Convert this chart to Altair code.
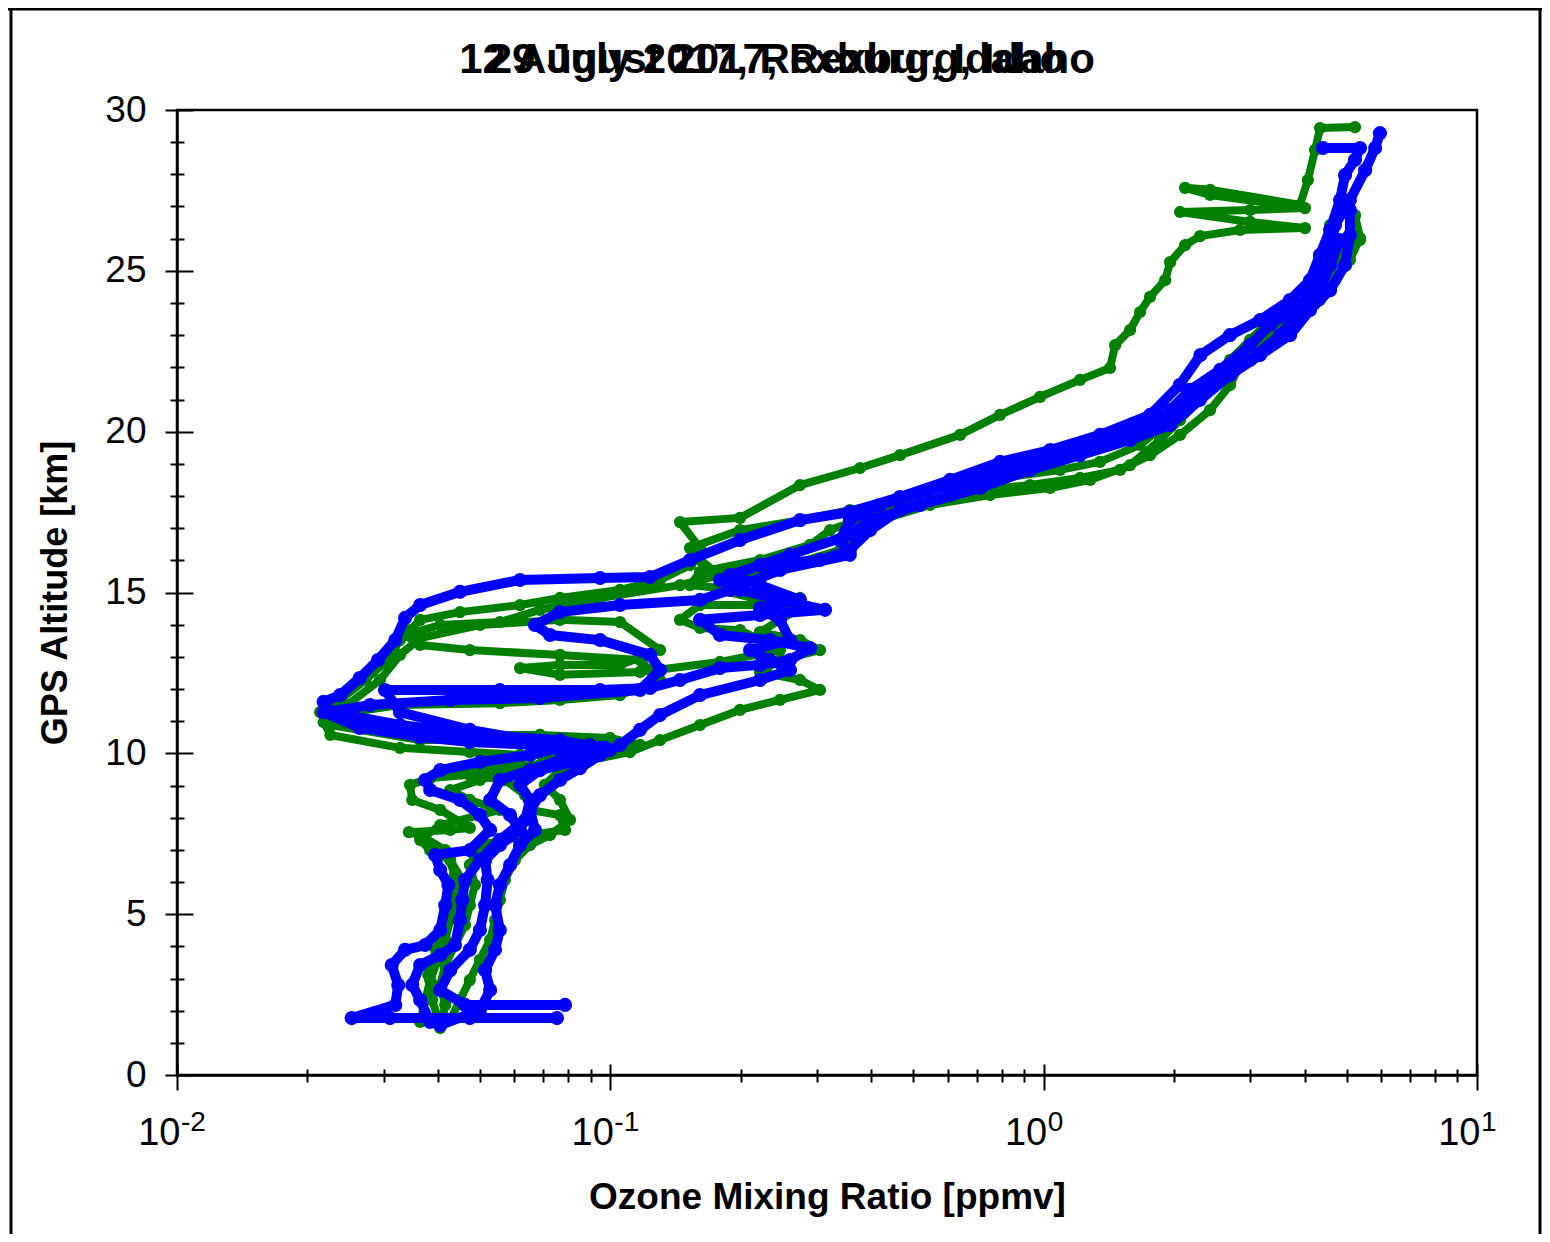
import altair as alt
import pandas as pd

TITLE_A = "12 August 2017, Rexburg, Idaho"
TITLE_B = "29 July 2017, Rexburg, Idaho"
X_TITLE = "Ozone Mixing Ratio [ppmv]"
Y_TITLE = "GPS Altitude [km]"

x_major = [0.01, 0.1, 1, 10]
x_exponents = ["-2", "-1", "0", "1"]
x_minor = [0.02, 0.03, 0.04, 0.05, 0.06, 0.07, 0.08, 0.09,
           0.2, 0.3, 0.4, 0.5, 0.6, 0.7, 0.8, 0.9,
           2, 3, 4, 5, 6, 7, 8, 9]
y_major = [0, 5, 10, 15, 20, 25, 30]
y_minor = [k for k in range(1, 30) if k % 5 != 0]

# ---- green profiles (ozone ppmv, altitude km) ----
g1_o3 = [0.0405, 0.0388, 0.0380, 0.0396, 0.0416, 0.0427, 0.0438, 0.0416, 0.0364, 0.0343,
         0.0427, 0.0474, 0.0405, 0.0349, 0.0345, 0.0384, 0.0474, 0.0556, 0.0619, 0.0716,
         0.0688, 0.0556, 0.0364, 0.0226, 0.0214, 0.0238, 0.0272, 0.0306, 0.0327, 0.0345,
         0.0364, 0.0450, 0.0619, 0.0765, 0.1053, 0.1302, 0.1527, 0.1611, 0.1448, 0.1992,
         0.274, 0.3769, 0.466, 0.6412, 0.793, 0.981, 1.213, 1.423, 1.462, 1.583,
         1.669, 1.76, 1.907, 1.958, 2.12, 2.296, 2.839, 4.01, 2.994, 2.064,
         2.994, 4.01, 2.421, 2.12, 2.421, 3.905, 4.07, 4.23, 4.343, 5.23]
g1_alt = [1.55, 2.33, 3.11, 3.89, 4.66, 5.44, 6.22, 6.99, 7.46, 7.55,
          7.62, 7.68, 8.24, 8.55, 9.02, 9.23, 9.33, 9.48, 9.79, 10.26,
          10.57, 10.48, 10.41, 10.88, 11.28, 11.66, 12.28, 12.90, 13.52, 13.83,
          14.15, 14.39, 14.61, 14.83, 15.08, 15.39, 15.85, 16.38, 17.19, 17.32,
          18.34, 18.87, 19.27, 19.90, 20.52, 21.08, 21.61, 21.98, 22.69, 23.16,
          23.72, 24.19, 24.71, 25.27, 25.80, 26.08, 26.27, 26.33, 26.52, 26.83,
          26.89, 26.95, 27.36, 27.58, 27.52, 27.05, 27.82, 28.76, 29.44, 29.47]

g2_o3 = [0.0405, 0.0416, 0.0405, 0.0416, 0.0438, 0.0462, 0.0474, 0.0487, 0.0474, 0.0500,
         0.0653, 0.0786, 0.0765, 0.0653, 0.0636, 0.0571, 0.0474, 0.0405, 0.0500, 0.0688,
         0.0947, 0.1171, 0.0998, 0.0688, 0.0384, 0.0264, 0.0226, 0.0327, 0.0556, 0.0765,
         0.1053, 0.1302, 0.1171, 0.0765, 0.0474, 0.0364, 0.0336, 0.0405, 0.0556, 0.0688,
         0.0947, 0.1448, 0.1791, 0.1611, 0.1527, 0.1992, 0.274, 0.357, 0.466, 0.608,
         0.793, 1.091, 1.349, 1.669, 1.958, 2.177, 2.421, 2.693, 2.994, 3.33,
         3.703, 4.118, 4.343, 4.83, 4.58, 4.77]
g2_alt = [1.46, 2.18, 2.80, 3.42, 4.04, 4.66, 5.28, 5.91, 6.53, 7.15,
          7.46, 7.62, 8.08, 8.24, 8.70, 9.17, 9.33, 9.42, 9.54, 9.64,
          10.04, 10.26, 10.48, 10.57, 10.57, 10.88, 11.19, 11.50, 11.56, 11.66,
          11.81, 12.28, 12.90, 13.06, 13.21, 13.37, 13.68, 13.99, 14.08, 14.46,
          14.83, 15.23, 15.54, 16.01, 16.38, 16.94, 17.25, 17.56, 17.88, 18.34,
          18.56, 18.81, 19.06, 19.59, 20.36, 21.14, 21.61, 22.23, 22.85, 23.47,
          24.09, 24.71, 25.18, 25.71, 26.42, 26.83]

g3_o3 = [0.0364, 0.0374, 0.0384, 0.0400, 0.0416, 0.0427, 0.0444, 0.0455, 0.0427, 0.0384,
         0.0364, 0.0405, 0.0500, 0.0556, 0.0474, 0.0427, 0.0500, 0.0587, 0.0726, 0.0851,
         0.0619, 0.0474, 0.0327, 0.0226, 0.0218, 0.0247, 0.0294, 0.0327, 0.0364, 0.0500,
         0.0765, 0.1053, 0.1302, 0.1053, 0.0765, 0.0619, 0.0765, 0.1171, 0.1791, 0.2464,
         0.1992, 0.1611, 0.1448, 0.1611, 0.2336, 0.274, 0.1992, 0.1527, 0.1611, 0.2215,
         0.289, 0.3214, 0.4191, 0.5467, 0.7131, 0.930, 1.213, 1.501, 1.76, 2.064,
         2.421, 2.693, 2.839, 3.157, 3.703, 4.118, 4.343, 4.58, 4.96, 5.371]
g3_alt = [1.65, 2.33, 2.95, 3.58, 4.20, 4.82, 5.44, 6.06, 6.68, 6.99,
          7.31, 7.77, 8.08, 8.24, 8.55, 8.86, 9.17, 9.48, 9.73, 9.95,
          9.95, 10.04, 10.17, 10.57, 10.97, 11.50, 12.28, 13.06, 13.58, 13.99,
          14.15, 14.08, 13.21, 12.75, 12.75, 12.65, 12.44, 12.53, 12.84, 13.21,
          13.83, 13.90, 14.15, 14.61, 14.61, 14.83, 15.08, 15.23, 15.64, 16.01,
          16.48, 16.94, 17.50, 17.88, 18.19, 18.34, 18.56, 18.81, 19.27, 19.90,
          20.67, 21.45, 22.07, 22.85, 23.47, 24.09, 24.56, 25.02, 25.49, 25.96]

g4_o3 = [0.0427, 0.0450, 0.0474, 0.0500, 0.0528, 0.0542, 0.0556, 0.0571, 0.0602, 0.0653,
         0.0726, 0.0807, 0.0765, 0.0706, 0.0765, 0.0898, 0.1110, 0.1302, 0.1611, 0.1992,
         0.2464, 0.3047, 0.274, 0.2215, 0.2464, 0.3047, 0.274, 0.2215, 0.2464, 0.274,
         0.2215, 0.1791, 0.1992, 0.2598, 0.3388, 0.3769, 0.4191, 0.5467, 0.752, 1.035,
         1.28, 1.583, 1.856, 2.064, 2.296, 2.553, 2.839, 3.33, 3.905, 4.343,
         4.70, 5.09, 5.371, 5.23]
g4_alt = [1.71, 2.33, 2.95, 3.58, 4.20, 4.82, 5.44, 6.06, 6.68, 7.15,
          7.46, 7.93, 8.55, 9.02, 9.48, 9.79, 10.04, 10.41, 10.88, 11.35,
          11.66, 11.97, 12.28, 12.53, 12.90, 13.21, 13.52, 13.77, 14.15, 14.52,
          14.77, 15.08, 15.39, 15.85, 16.32, 16.79, 17.25, 17.72, 18.03, 18.25,
          18.50, 18.96, 19.74, 20.36, 20.99, 21.61, 22.23, 23.00, 23.63, 24.09,
          24.71, 25.34, 26.02, 26.73]

# ---- blue profiles ----
b1_o3 = [0.0753, 0.0474, 0.0310, 0.0253, 0.0319, 0.0324, 0.0313, 0.0336, 0.0374, 0.0405,
         0.0416, 0.0423, 0.0405, 0.0394, 0.0474, 0.0528, 0.0500, 0.0450, 0.0384, 0.0374,
         0.0405, 0.0500, 0.0653, 0.0765, 0.0947, 0.0765, 0.0500, 0.0327, 0.0226, 0.0218,
         0.0238, 0.0264, 0.0291, 0.0319, 0.0336, 0.0364, 0.0450, 0.0619, 0.0947, 0.1235,
         0.1527, 0.1992, 0.274, 0.357, 0.466, 0.608, 0.793, 1.035, 1.349, 1.76,
         2.06, 2.30, 2.69, 3.16, 3.70, 4.12, 4.34, 4.58, 4.83, 4.96,
         5.23, 5.37, 4.41]
b1_alt = [1.77, 1.77, 1.77, 1.77, 2.18, 2.80, 3.42, 3.89, 4.04, 4.51,
          5.28, 5.91, 6.37, 6.84, 6.99, 7.62, 8.08, 8.55, 8.86, 9.17,
          9.48, 9.73, 9.95, 10.17, 10.17, 10.41, 10.57, 10.88, 11.28, 11.60,
          11.81, 12.34, 12.90, 13.52, 14.21, 14.61, 15.02, 15.39, 15.45, 15.48,
          16.01, 16.63, 17.25, 17.50, 17.97, 18.50, 19.06, 19.43, 19.90, 20.52,
          21.45, 22.38, 23.00, 23.47, 24.09, 24.71, 25.49, 26.27, 27.20, 27.98,
          28.45, 28.82, 28.82]

b2_o3 = [0.0786, 0.0462, 0.0405, 0.0427, 0.0474, 0.0500, 0.0514, 0.0521, 0.0514, 0.0556,
         0.0619, 0.0587, 0.0528, 0.0556, 0.0653, 0.0765, 0.0898, 0.0972, 0.0688, 0.0474,
         0.0364, 0.0264, 0.0218, 0.0279, 0.0427, 0.0688, 0.1171, 0.1302, 0.1235, 0.0947,
         0.0726, 0.0670, 0.0765, 0.1053, 0.1611, 0.1889, 0.2464, 0.357, 0.339, 0.357,
         0.419, 0.608, 0.793, 1.035, 1.349, 1.669, 1.958, 2.177, 2.553, 2.994,
         3.33, 3.905, 4.343, 4.58, 4.70, 5.09, 5.52, 5.82, 5.97]
b2_alt = [2.18, 2.18, 2.64, 3.26, 3.89, 4.51, 5.28, 6.06, 6.68, 7.15,
          7.62, 8.08, 8.55, 9.17, 9.48, 9.79, 10.10, 10.17, 10.26, 10.35,
          10.51, 10.79, 11.28, 11.50, 11.66, 11.72, 11.97, 12.59, 13.06, 13.52,
          13.68, 13.99, 14.39, 14.61, 14.77, 15.08, 15.70, 16.17, 16.63, 17.25,
          17.72, 18.34, 18.81, 19.27, 19.74, 20.05, 20.67, 21.30, 21.92, 22.69,
          23.32, 23.94, 24.71, 25.49, 26.42, 27.20, 28.13, 28.82, 29.28]

b3_o3 = [0.0384, 0.0364, 0.0349, 0.0364, 0.0405, 0.0438, 0.0450, 0.0455, 0.0462, 0.0500,
         0.0556, 0.0636, 0.0653, 0.0619, 0.0688, 0.0851, 0.0998, 0.0898, 0.0688, 0.0474,
         0.0327, 0.0302, 0.0556, 0.0947, 0.1235, 0.1448, 0.1791, 0.2215, 0.2598, 0.289,
         0.2336, 0.1791, 0.1611, 0.2215, 0.313, 0.2464, 0.1992, 0.1791, 0.2215, 0.3047,
         0.357, 0.3975, 0.466, 0.608, 0.793, 1.035, 1.349, 1.76, 2.064, 2.421,
         2.994, 3.511, 3.905, 4.343, 4.58, 4.83]
b3_alt = [1.65, 2.33, 2.80, 3.42, 3.73, 4.04, 4.82, 5.44, 6.06, 6.68,
          7.31, 7.93, 8.55, 9.02, 9.48, 9.79, 10.10, 10.26, 10.35, 10.73,
          11.28, 11.97, 11.97, 11.97, 12.03, 12.28, 12.65, 12.75, 12.90, 13.27,
          13.52, 13.68, 14.15, 14.30, 14.46, 14.77, 15.08, 15.39, 15.85, 16.01,
          16.32, 16.94, 17.56, 18.03, 18.65, 19.18, 19.59, 20.05, 20.83, 21.61,
          22.23, 23.00, 23.78, 24.40, 25.18, 25.96]

b4_o3 = [0.0405, 0.0500, 0.0528, 0.0514, 0.0542, 0.0556, 0.0542, 0.0556, 0.0587, 0.0619,
         0.0670, 0.0653, 0.0688, 0.0765, 0.0851, 0.0947, 0.1053, 0.1171, 0.1302, 0.1611,
         0.2215, 0.2598, 0.2336, 0.2101, 0.2598, 0.2464, 0.2215, 0.274, 0.2215, 0.1889,
         0.2598, 0.357, 0.3975, 0.5184, 0.7131, 0.930, 1.213, 1.583, 1.958, 2.296,
         2.693, 3.157, 3.703, 4.118, 4.58, 4.96, 5.09, 5.09]
b4_alt = [1.55, 2.02, 2.64, 3.26, 3.89, 4.51, 5.28, 5.91, 6.53, 7.15,
          7.62, 8.24, 8.70, 9.17, 9.54, 9.95, 10.26, 10.73, 11.19, 11.81,
          12.28, 12.59, 12.90, 13.21, 13.52, 14.15, 14.52, 14.77, 15.23, 15.54,
          16.17, 16.79, 17.25, 17.72, 18.25, 18.81, 19.27, 19.74, 20.21, 20.99,
          21.76, 22.38, 23.00, 23.78, 24.40, 25.18, 26.11, 26.89]

GREEN = "#008000"
BLUE = "#0000FF"
FONT = "Liberation Sans"


def build(profiles):
    rows = []
    for name, (o3, alt_km) in profiles.items():
        if len(o3) != len(alt_km):
            raise ValueError(f"length mismatch in {name}: {len(o3)} vs {len(alt_km)}")
        for i, (a, b) in enumerate(zip(o3, alt_km)):
            rows.append({"profile": name, "i": i, "o3": a, "alt": b})
    return pd.DataFrame(rows)


green_df = build({"g1": (g1_o3, g1_alt), "g2": (g2_o3, g2_alt),
                  "g3": (g3_o3, g3_alt), "g4": (g4_o3, g4_alt)})
blue_df = build({"b1": (b1_o3, b1_alt), "b2": (b2_o3, b2_alt),
                 "b3": (b3_o3, b3_alt), "b4": (b4_o3, b4_alt)})

XS = alt.Scale(type="log", domain=[0.01, 10], nice=False)
YS = alt.Scale(domain=[0, 30], nice=False)

tick_style = dict(grid=False, tickColor="black", tickWidth=2)

x_axes = [
    alt.Axis(orient="bottom", values=x_major, labelExpr="'10'", labelFont=FONT,
             labelFontSize=38, labelColor="black", labelAlign="right", labelOffset=3,
             labelPadding=24, labelFlush=False, labelOverlap=False, tickSize=15,
             domainColor="black", domainWidth=2.5,
             title=X_TITLE, titleFont=FONT, titleFontSize=37, titleFontWeight="bold",
             titleColor="black", titleY=122, titleBaseline="middle", **tick_style),
    alt.Axis(orient="bottom", values=x_major, labels=False, domain=False,
             tickSize=11, offset=-11, title=None, **tick_style),
    alt.Axis(orient="bottom", values=x_minor, labels=False, domain=False,
             tickSize=7, title=None, **tick_style),
    alt.Axis(orient="bottom", values=x_minor, labels=False, domain=False,
             tickSize=6, offset=-6, title=None, **tick_style),
]
y_axes = [
    alt.Axis(orient="left", values=y_major, labelFont=FONT, labelFontSize=37,
             labelColor="black", labelPadding=19, labelFlush=False, labelOverlap=False,
             tickSize=12, domainColor="black", domainWidth=2.5,
             title=Y_TITLE, titleFont=FONT, titleFontSize=36, titleFontWeight="bold",
             titleColor="black", titleX=-122, titleBaseline="middle", **tick_style),
    alt.Axis(orient="left", values=y_major, labels=False, domain=False,
             tickSize=16, offset=-16, title=None, **tick_style),
    alt.Axis(orient="left", values=y_minor, labels=False, domain=False,
             tickSize=7, title=None, **tick_style),
    alt.Axis(orient="left", values=y_minor, labels=False, domain=False,
             tickSize=7, offset=-7, title=None, **tick_style),
]


def enc(k):
    return dict(
        x=alt.X("o3:Q", scale=XS, axis=x_axes[k]),
        y=alt.Y("alt:Q", scale=YS, axis=y_axes[k]),
        detail="profile:N",
        order="i:Q",
    )


green_line = alt.Chart(green_df).mark_line(
    color=GREEN, strokeWidth=8, strokeJoin="round", strokeCap="round").encode(**enc(0))
green_pts = alt.Chart(green_df).mark_circle(
    color=GREEN, size=150, opacity=1).encode(**enc(1))
blue_line = alt.Chart(blue_df).mark_line(
    color=BLUE, strokeWidth=10, strokeJoin="round", strokeCap="round").encode(**enc(2))
blue_pts = alt.Chart(blue_df).mark_circle(
    color=BLUE, size=200, opacity=1).encode(**enc(3))

exp_df = pd.DataFrame({"v": x_major, "e": x_exponents})
exponents = alt.Chart(exp_df).mark_text(
    font=FONT, fontSize=28, align="left", baseline="top", dx=4, color="black"
).encode(
    x=alt.X("v:Q", scale=XS, axis=None),
    y=alt.value(999),
    text="e:N",
)

title_df = pd.DataFrame({"t": [TITLE_A, TITLE_B]})
titles = alt.Chart(title_df).mark_text(
    font=FONT, fontWeight="bold", fontSize=42, color="black",
    align="center", baseline="middle"
).encode(text="t:N", x=alt.value(600), y=alt.value(-50))

dummy = pd.DataFrame({"a": [0]})
frame_left = alt.Chart(dummy).mark_rule(color="black", strokeWidth=3).encode(
    x=alt.value(-166), y=alt.value(-102), y2=alt.value(1124))
frame_top = alt.Chart(dummy).mark_rule(color="black", strokeWidth=3).encode(
    x=alt.value(-169), x2=alt.value(1365), y=alt.value(-101))
frame_right = alt.Chart(dummy).mark_rule(color="black", strokeWidth=3).encode(
    x=alt.value(1363), y=alt.value(-102), y2=alt.value(1124))

chart = alt.layer(
    green_line, green_pts, blue_line, blue_pts, exponents, titles,
    frame_left, frame_top, frame_right
).resolve_axis(
    x="independent", y="independent"
).properties(
    width=1300, height=965, autosize="none",
    padding={"left": 169, "top": 102, "right": 65, "bottom": 159},
    background="white",
).configure_view(stroke="black", strokeWidth=2.5)

chart.save("out.html", embed_options={"renderer": "svg", "actions": False})
